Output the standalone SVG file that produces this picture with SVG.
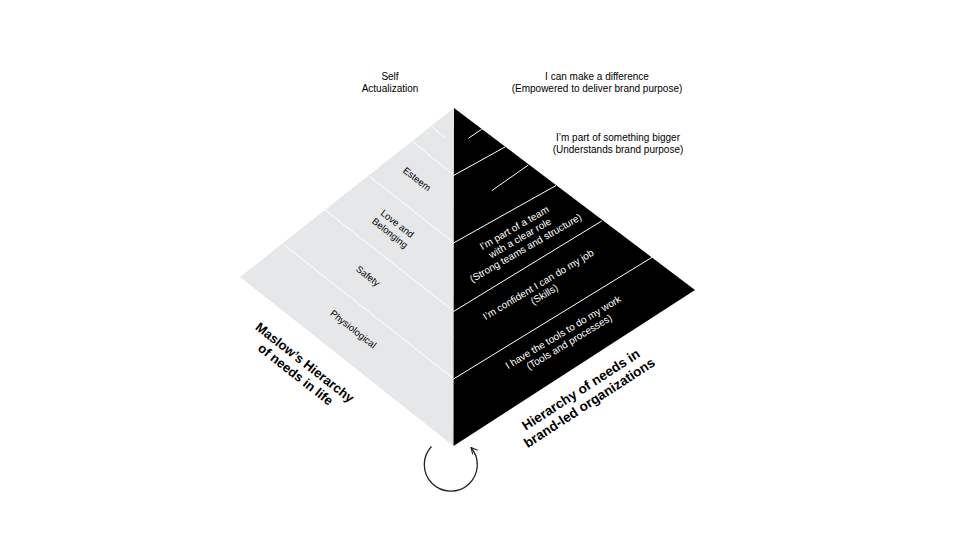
<svg xmlns="http://www.w3.org/2000/svg" width="960" height="560" viewBox="0 0 960 560">
  <style>
    .t { font-family: "Liberation Sans", Arial, Helvetica, sans-serif; font-size: 10px; fill: #000; text-anchor: middle; }
    .g { font-family: "Liberation Sans", Arial, Helvetica, sans-serif; font-size: 9.5px; fill: #000; text-anchor: middle; }
    .w { font-family: "Liberation Sans", Arial, Helvetica, sans-serif; font-size: 10px; fill: #fff; text-anchor: middle; }
    .b { font-family: "Liberation Sans", Arial, Helvetica, sans-serif; font-size: 13px; font-weight: bold; fill: #000; text-anchor: middle; }
    .b2 { font-size: 13.5px; }
    .lg { stroke: #fff; stroke-width: 1; fill: none; }
    .lb { stroke: #fff; stroke-width: 1; fill: none; }
  </style>
  <defs>
    <marker id="arrow" viewBox="0 0 10 10" refX="9" refY="5" markerWidth="8" markerHeight="8" markerUnits="userSpaceOnUse" orient="auto">
      <path d="M1,1 L9,5 L1,9" fill="none" stroke="#222" stroke-width="1.4"/>
    </marker>
  </defs>
  <rect width="960" height="560" fill="#fff"/>

  <g id="maslow-face">
    <polygon points="454,108 240,277 453.5,446" fill="#e6e7e8"/>
    <line class="lg" x1="432" y1="126.7" x2="446" y2="138.3"/>
    <line class="lg" x1="412.7" y1="141.7" x2="453.5" y2="175"/>
    <line class="lg" x1="369" y1="176" x2="453.5" y2="242.5"/>
    <line class="lg" x1="325" y1="210" x2="453.5" y2="311"/>
    <line class="lg" x1="283" y1="244" x2="453.5" y2="378.7"/>
  </g>

  <g id="brand-face">
    <polygon points="454,108 695,290 453.5,446" fill="#000"/>
    <line class="lb" x1="468.3" y1="138.3" x2="481.7" y2="129.3"/>
    <line class="lb" x1="453.5" y1="175.5" x2="505" y2="147"/>
    <line class="lb" x1="491.7" y1="190.7" x2="528.3" y2="165"/>
    <line class="lb" x1="453.5" y1="243" x2="556" y2="185.5"/>
    <line class="lb" x1="453.5" y1="311.5" x2="601.7" y2="221"/>
    <line class="lb" x1="453.5" y1="379" x2="652.5" y2="257"/>
  </g>

  <g id="top-labels">
    <text class="t" x="390" y="80">Self</text>
    <text class="t" x="390" y="92">Actualization</text>
    <text class="t" x="597" y="80">I can make a difference</text>
    <text class="t" x="597" y="92">(Empowered to deliver brand purpose)</text>
    <text class="t" x="618" y="141">I’m part of something bigger</text>
    <text class="t" x="618" y="153">(Understands brand purpose)</text>
  </g>

  <g id="maslow-labels">
    <text class="g" transform="translate(417,179) rotate(38)" y="3.3">Esteem</text>
    <text class="g" transform="translate(393.7,228.3) rotate(38)"><tspan x="0" y="-2.7">Love and</tspan><tspan x="0" y="9.3">Belonging</tspan></text>
    <text class="g" transform="translate(368,276) rotate(38)" y="3.3">Safety</text>
    <text class="g" transform="translate(353.3,329) rotate(38)" y="3.3">Physiological</text>
  </g>

  <g id="brand-labels">
    <text class="w" transform="translate(520,238) rotate(-30)"><tspan x="0" y="-8.2">I’m part of a team</tspan><tspan x="0" y="3.3">with a clear role</tspan><tspan x="0" y="14.8">(Strong teams and structure)</tspan></text>
    <text class="w" transform="translate(541.3,289.5) rotate(-31)"><tspan x="0" y="-2.4">I’m confident I can do my job</tspan><tspan x="0" y="9.1">(Skills)</tspan></text>
    <text class="w" transform="translate(566.2,337.1) rotate(-31)"><tspan x="0" y="-2.4">I have the tools to do my work</tspan><tspan x="0" y="9.1">(Tools and processes)</tspan></text>
  </g>

  <g id="titles">
    <text class="b" transform="translate(300.2,368.4) rotate(38)"><tspan x="0" y="-3">Maslow’s Hierarchy</tspan><tspan x="0" y="12">of needs in life</tspan></text>
    <text class="b b2" transform="translate(585,396) rotate(-33)"><tspan x="0" y="-3">Hierarchy of needs in</tspan><tspan x="0" y="12.5">brand-led organizations</tspan></text>
  </g>

  <g id="connectors">
    <path d="M 431.5 446.5 A 26.5 26.5 0 1 0 471 447.5" fill="none" stroke="#222" stroke-width="1.3" marker-end="url(#arrow)"/>
  </g>
</svg>
